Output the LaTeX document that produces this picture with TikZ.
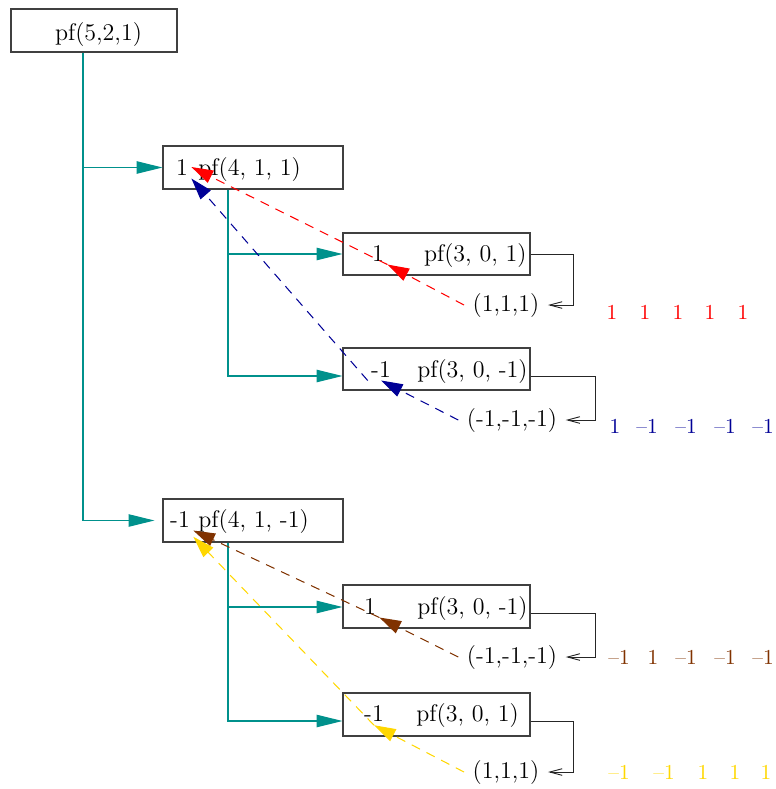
\documentclass[tikz,border=0pt]{standalone}
\usetikzlibrary{arrows.meta,calc}
\definecolor{tealc}{RGB}{0,145,140}
\definecolor{bluec}{RGB}{0,0,150}
\definecolor{brownc}{RGB}{128,50,0}
\definecolor{goldc}{RGB}{255,215,0}
\newcommand{\mo}{\textendash1}
\begin{document}
\begin{tikzpicture}[x=0.4835pt,y=-0.4835pt,
  every node/.style={font=\fontsize{11.6pt}{14pt}\selectfont},
  bx/.style 2 args={draw=black!75,line width=0.5pt,minimum width=#1*0.4835pt,minimum height=#2*0.4835pt,inner sep=0pt},
  txt/.style={inner sep=0pt},
  num/.style={inner sep=1.5pt,anchor=base},
  leaf/.style={inner sep=4pt,anchor=base},
  tl/.style={draw=tealc,line width=0.5pt,-{Triangle[length=12.5pt,width=6pt]}},
  lk/.style={draw=black!85,line width=0.45pt,-{Straight Barb[length=6pt,width=3.2pt]}},
  dsh/.style={line width=0.5pt,dash pattern=on 4.5pt off 3.5pt,-{Triangle[length=10.5pt,width=6.5pt]}},
  row/.style={inner sep=0pt,anchor=base,font=\fontsize{10.3pt}{12pt}\selectfont}]
\useasboundingbox (0,0) rectangle (775,789);
% boxes
\node[bx={166}{43}] (top) at (94,30.5) {};
\node[txt,anchor=base] (ttop) at (98.5,40.7) {pf(5,2,1)};
\node[bx={180}{43}] (A) at (253,167.5) {};
\node[num] (nA) at (182,175) {1};
\node[txt,anchor=base west] (tA) at (198,175) {pf(4, 1, 1)};
\node[bx={187}{42}] (B1) at (436.5,254) {};
\node[num] (nB1) at (378,261) {1};
\node[txt,anchor=base east] (tB1) at (527,261) {pf(3, 0, 1)};
\node[bx={187}{42}] (B2) at (436.5,369) {};
\node[num] (nB2) at (381,377) {-1};
\node[txt,anchor=base east] (tB2) at (528,377) {pf(3, 0, -1)};
\node[bx={180}{43}] (C) at (253,520.5) {};
\node[num] (nC) at (180,527) {-1};
\node[txt,anchor=base west] (tC) at (198,527) {pf(4, 1, -1)};
\node[bx={187}{43}] (D1) at (436.5,606.5) {};
\node[num] (nD1) at (370,614) {1};
\node[txt,anchor=base east] (tD1) at (528,614) {pf(3, 0, -1)};
\node[bx={187}{43}] (D2) at (436.5,714.5) {};
\node[num] (nD2) at (374,721.7) {-1};
\node[txt,anchor=base west] (tD2) at (416,721.7) {pf(3, 0, 1)};
% leaves
\node[leaf] (lB1) at (506,311) {(1,1,1)};
\node[leaf] (lB2) at (512,426) {(-1,-1,-1)};
\node[leaf] (lD1) at (512,663) {(-1,-1,-1)};
\node[leaf] (lD2) at (506,778) {(1,1,1)};
% teal tree connectors
\draw[tl] ($(top.south)+(-11,0)$) |- (A.west);
\draw[tl,shorten >=3.9pt] ($(top.south)+(-11,0)$) |- (C.west);
\draw[tl] ($(A.south)+(-25,0)$) |- (B1.west);
\draw[tl] ($(A.south)+(-25,0)$) |- ($(B2.west)+(0,7)$);
\draw[tl] ($(C.south)+(-25,0)$) |- ($(D1.west)+(0,0.5)$);
\draw[tl] ($(C.south)+(-25,0)$) |- ($(D2.west)+(0,6.5)$);
% black leaf connectors
\draw[lk] (B1.east) -- ++(43,0) |- (lB1.east);
\draw[lk] ($(B2.east)+(0,7)$) -- ++(65,0) |- (lB2.east);
\draw[lk] ($(D1.east)+(0,6.5)$) -- ++(65,0) |- (lD1.east);
\draw[lk] ($(D2.east)+(0,6.5)$) -- ++(43,0) |- (lD2.east);
% dashed back arrows
\draw[dsh,red] (lB1.west) -- (nB1.south east);
\draw[dsh,red] (nB1.south east) -- (nA.east);
\draw[dsh,bluec] (lB2.west) -- (nB2.south);
\draw[dsh,bluec] (nB2.south west) -- (nA.south east);
\draw[dsh,brownc] (lD1.west) -- (nD1.south east);
\draw[dsh,brownc] (nD1.south east) -- (nC.south east);
\draw[dsh,goldc] (lD2.west) -- (nD2.south);
\draw[dsh,goldc] (nD2.south) -- ([yshift=-3pt]nC.south east);
% coloured rows
\foreach \x/\t [count=\i] in {612/1,645/1,678/1,710/1,743/1}
  \node[row,red] (r\i) at (\x,319) {\t};
\foreach \x/\t [count=\i] in {615/1,647/\mo,686/\mo,725/\mo,763/\mo}
  \node[row,bluec] (b\i) at (\x,433) {\t};
\foreach \x/\t [count=\i] in {619/\mo,653/1,686/\mo,725/\mo,763/\mo}
  \node[row,brownc] (w\i) at (\x,664) {\t};
\foreach \x/\t [count=\i] in {619/\mo,664/\mo,703/1,735/1,766/1}
  \node[row,goldc] (g\i) at (\x,779) {\t};
\end{tikzpicture}
\end{document}
